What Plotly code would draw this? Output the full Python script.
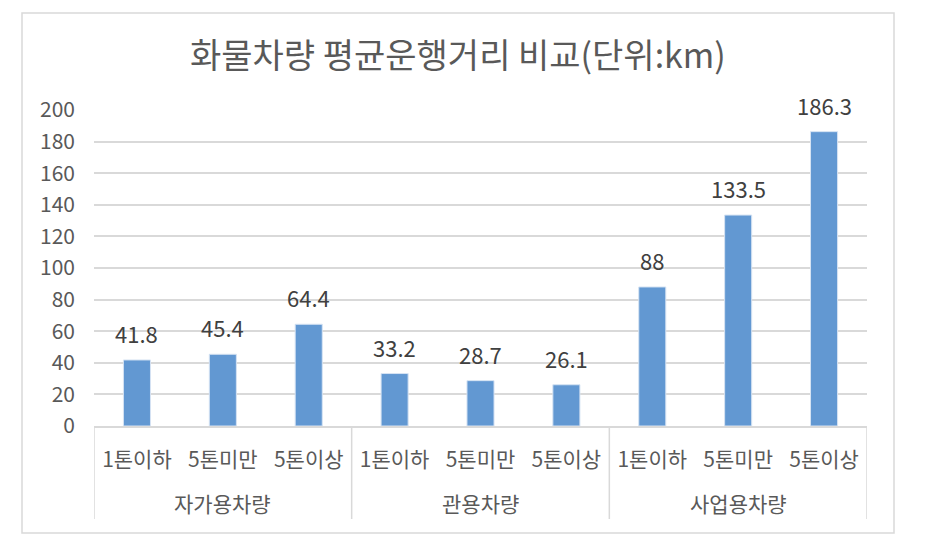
import plotly.graph_objects as go

groups = ["자가용차량", "관용차량", "사업용차량"]
sub_labels = ["1톤이하", "5톤미만", "5톤이상"]
values = [41.8, 45.4, 64.4, 33.2, 28.7, 26.1, 88, 133.5, 186.3]
value_text = ["41.8", "45.4", "64.4", "33.2", "28.7", "26.1", "88", "133.5", "186.3"]
y_ticks = [0, 20, 40, 60, 80, 100, 120, 140, 160, 180, 200]
title = "화물차량 평균운행거리 비교(단위:km)"

FONT = "Malgun Gothic, Noto Sans CJK KR, sans-serif"
W, H = 932, 550
L, R, T, B = 94, 932 - 867, 110, 550 - 426
PH = H - T - B
PW = W - L - R

x_pos = list(range(len(values)))
x_text = [sub_labels[i % 3] for i in x_pos]

fig = go.Figure()
fig.add_trace(go.Bar(
    x=x_pos, y=values, width=0.315,
    marker=dict(color="#6298D2", line=dict(color="#D6E3F3", width=1)),
    hoverinfo="skip",
))

annotations = []
for xi, v, t in zip(x_pos, values, value_text):
    annotations.append(dict(x=xi, y=v, xref="x", yref="y", text=t, showarrow=False,
                            yanchor="middle", yshift=27,
                            font=dict(family=FONT, size=22, color="#404040")))
for gi, g in enumerate(groups):
    annotations.append(dict(x=gi * 3 + 1, y=-(503 - 426) / PH, xref="x", yref="paper",
                            text=g, showarrow=False, yanchor="middle",
                            font=dict(family=FONT, size=21, color="#595959")))
annotations.append(dict(x=(458 - L) / PW, xref="paper", y=(426 - 54) / PH, yref="paper",
                        text=title, showarrow=False, yanchor="middle", xanchor="center",
                        font=dict(family=FONT, size=34, color="#595959")))

shapes = []
sep_bottom = -(519 - 426) / PH
for xs in [-0.5, 2.5, 5.5, 8.5]:
    shapes.append(dict(type="line", xref="x", yref="paper", x0=xs, x1=xs, y0=0, y1=sep_bottom,
                       line=dict(color="#D9D9D9", width=1.5)))
# chart area border
shapes.append(dict(type="rect", xref="paper", yref="paper",
                   x0=(22 - L) / PW, x1=(894 - L) / PW,
                   y0=-(533 - 426) / PH, y1=(426 - 13) / PH,
                   line=dict(color="#D9D9D9", width=1.5), fillcolor="rgba(0,0,0,0)"))

fig.update_layout(
    width=W, height=H,
    margin=dict(l=L, r=R, t=T, b=B, autoexpand=False),
    paper_bgcolor="white", plot_bgcolor="white",
    showlegend=False,
    bargap=0.685,
    annotations=annotations,
    shapes=shapes,
    xaxis=dict(range=[-0.5, 8.5], tickvals=x_pos, ticktext=x_text,
               showgrid=False, zeroline=False, showline=True, linecolor="#D9D9D9", linewidth=1.5,
               ticks="", ticklabelstandoff=14,
               tickfont=dict(family=FONT, size=21, color="#595959")),
    yaxis=dict(range=[0, 200], tickvals=y_ticks, showgrid=True, gridcolor="#D9D9D9", gridwidth=1.5,
               zeroline=False, showline=False, ticks="", ticklabelstandoff=18,
               tickfont=dict(family=FONT, size=21, color="#595959")),
)

fig.write_html("out.html")
